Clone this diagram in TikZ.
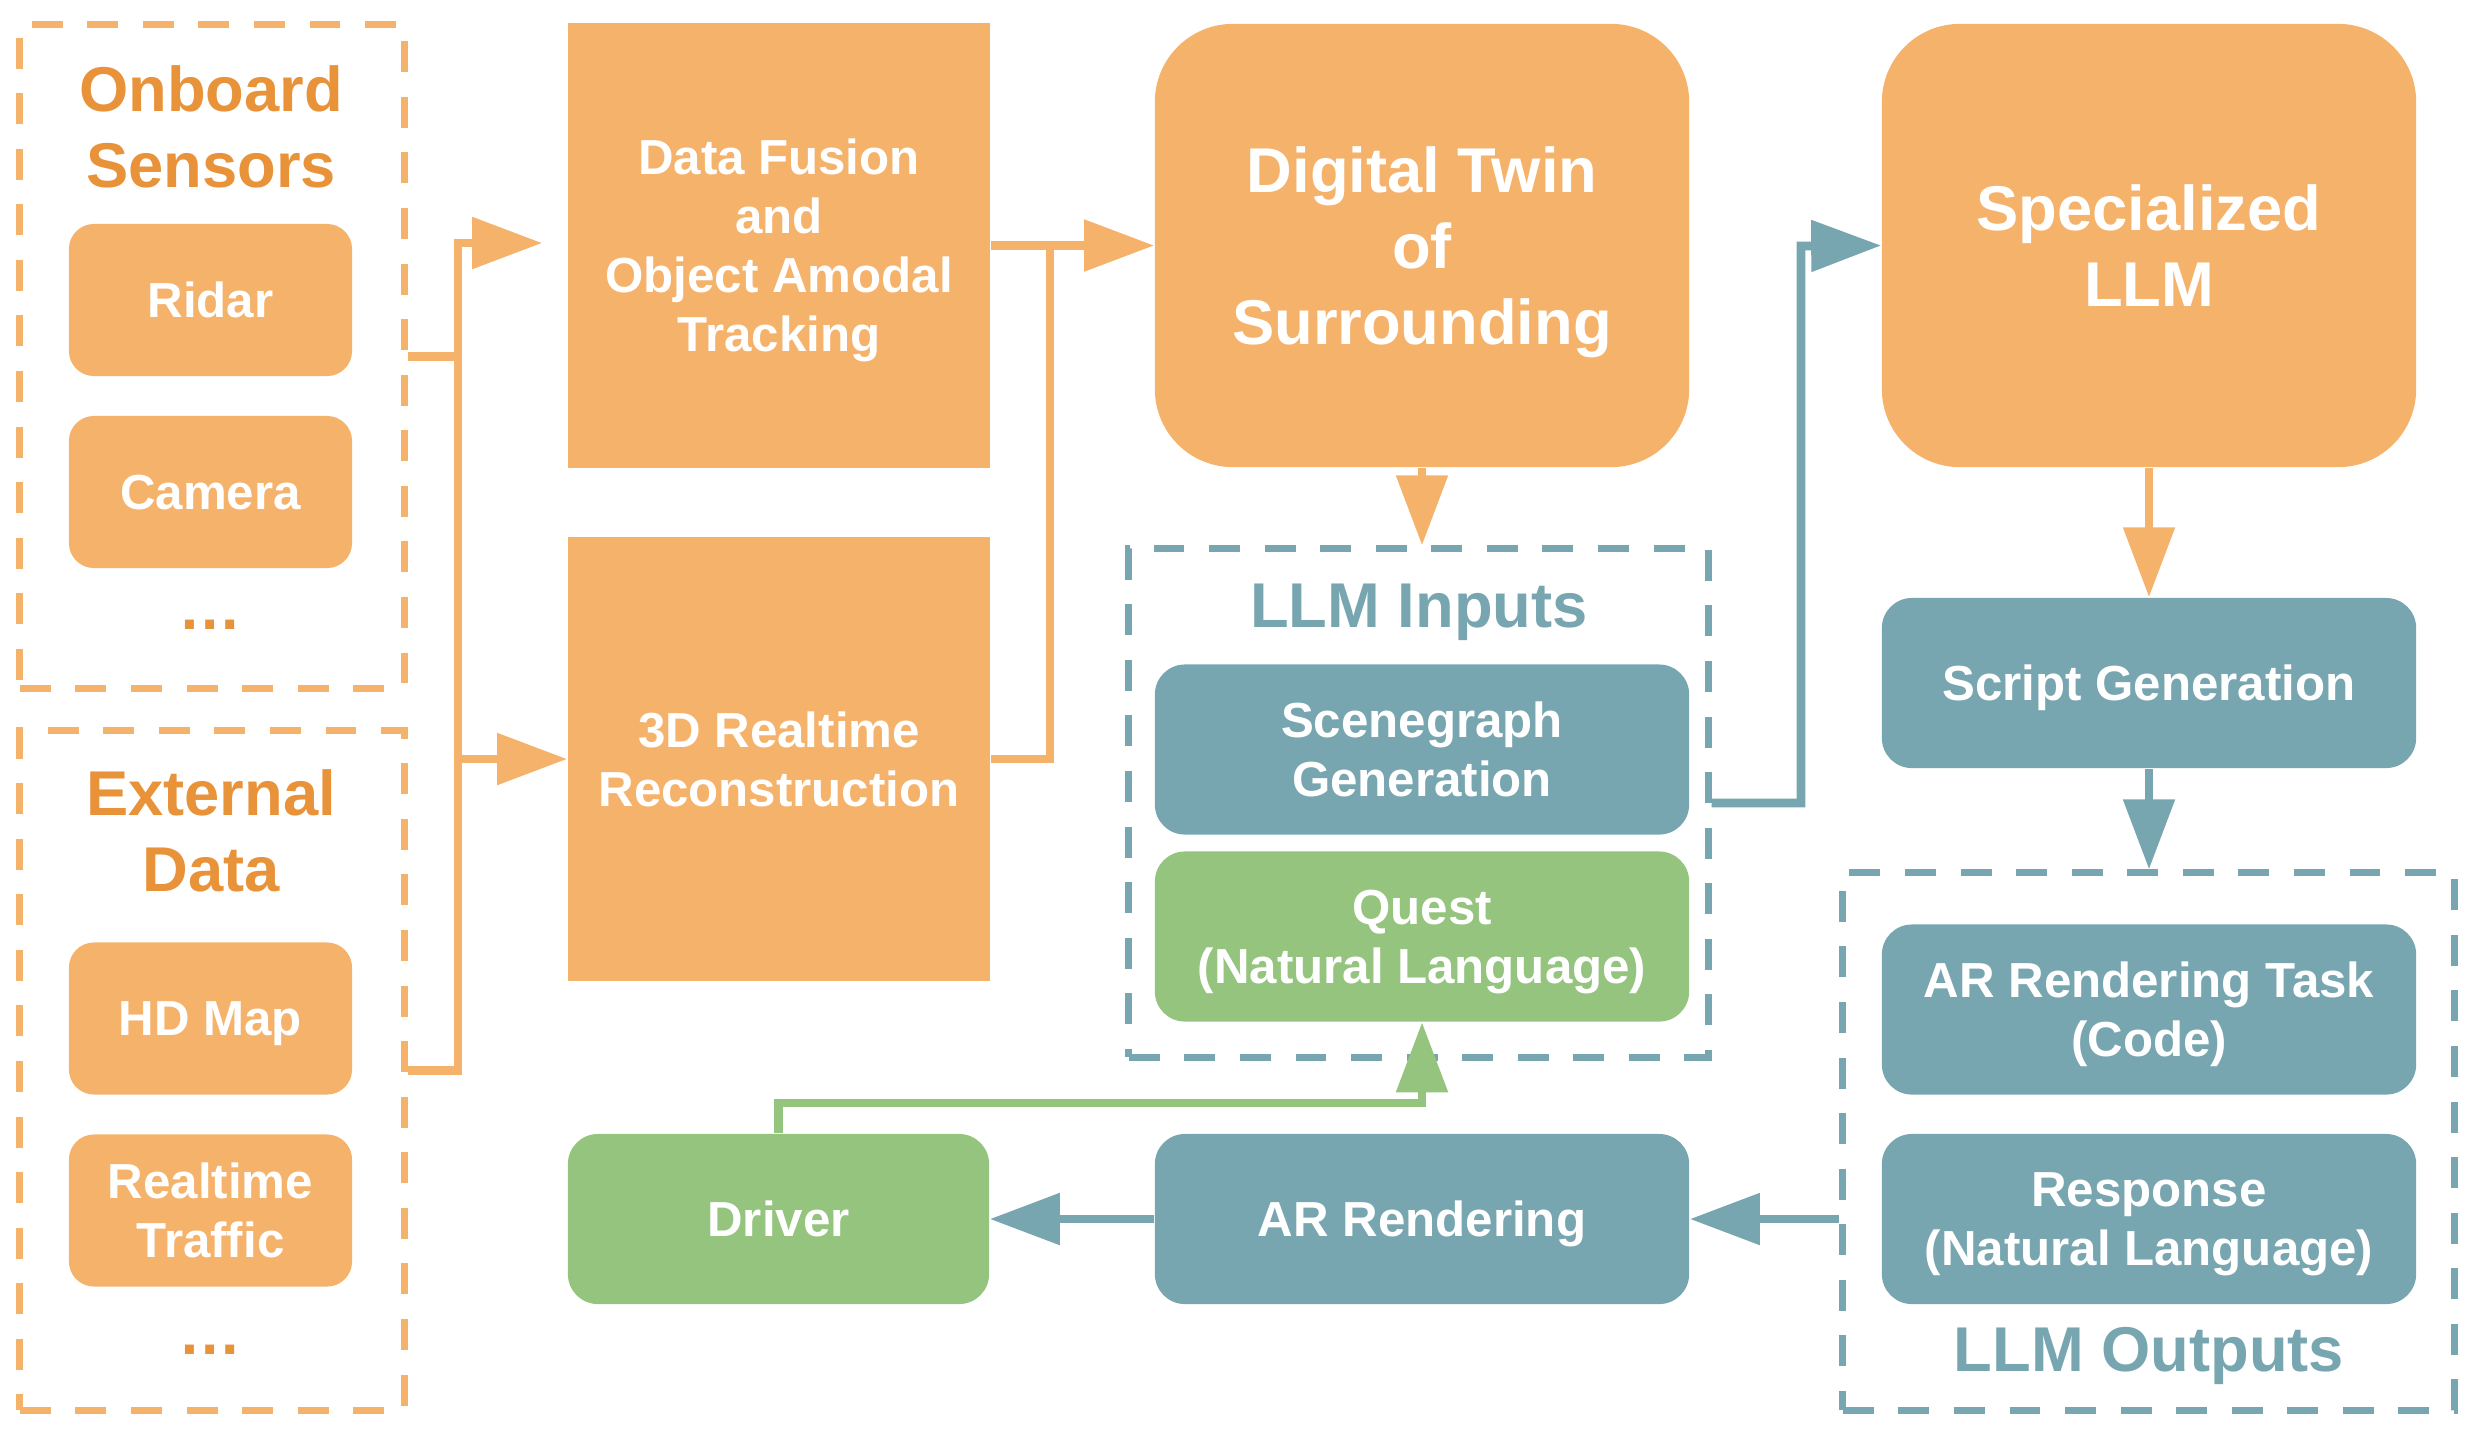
\documentclass[tikz,border=0pt]{standalone}
\usepackage{fontspec}
\setmainfont{Liberation Sans}
\usetikzlibrary{arrows.meta,calc}
\definecolor{orF}{HTML}{F5B26B}
\definecolor{orT}{HTML}{E8923A}
\definecolor{tl}{HTML}{78A6B0}
\definecolor{gr}{HTML}{94C47D}
\newcommand\fbig{\fontsize{18}{21.6}\selectfont\bfseries}
\newcommand\fsm{\fontsize{14}{16.8}\selectfont\bfseries}
\begin{document}
\begin{tikzpicture}[x=0.01cm,y=-0.01cm,
  sbox/.style={fill=orF, text=white, font=\fsm, align=center, rounded corners=2.5mm, minimum width=28.3mm, minimum height=15.2mm, inner sep=0pt, text depth=0pt},
  rbox/.style={fill=orF, text=white, font=\fsm, align=center, minimum width=42.2mm, minimum height=44.4mm, inner sep=0pt, text depth=0pt},
  bbox/.style={fill=orF, text=white, font=\fbig, align=center, rounded corners=7.8mm, minimum width=53.4mm, minimum height=44.3mm, inner sep=0pt, text depth=0pt},
  tbox/.style={fill=tl, text=white, font=\fsm, align=center, rounded corners=3mm, minimum width=53.4mm, minimum height=17mm, inner sep=0pt, text depth=0pt},
  gbox/.style={tbox, fill=gr},
  odash/.style={draw=orF, line width=2pt, dash pattern=on 8.8pt off 7pt, inner sep=0pt},
  tdash/.style={odash, draw=tl},
  otitle/.style={font=\fbig, text=orT, align=center},
  ttitle/.style={font=\fbig, text=tl, align=center},
  conn/.style={line width=2.5pt, color=orF},
  arr/.style={conn, -{Triangle[length=19.9pt,width=14.2pt]}},
  tconn/.style={conn, color=tl},
  tarr/.style={arr, color=tl},
  garr/.style={arr, color=gr}]
\useasboundingbox (0,0) rectangle (2482,1438);

% left groups
\node[odash, minimum width=38.4mm, minimum height=66.3mm] (ob) at (212,356.5) {};
\node[otitle] (obt) at (211,127) {Onboard\\Sensors};
\node[sbox] (ridar) at (210.5,300) {Ridar};
\node[sbox] (cam) at (210.5,492) {Camera};
\node[font=\fbig, text=orT, anchor=base] (dots1) at (210.5,629) {…};

\node[odash, minimum width=38.4mm, minimum height=67.9mm] (ext) at (212,1070.5) {};
\node[otitle] (extt) at (211,831) {External\\Data};
\node[sbox] (hd) at (210.5,1018.5) {HD Map};
\node[sbox] (rtt) at (210.5,1210.5) {Realtime\\Traffic};
\node[font=\fbig, text=orT, anchor=base] (dots2) at (210.5,1354) {…};

% processing
\node[rbox] (df) at (779,245.5) {Data Fusion\\and\\Object Amodal\\Tracking};
\node[rbox] (rt) at (779,759) {3D Realtime\\Reconstruction};
\node[bbox] (dt) at (1422,245.5) {Digital Twin\\of\\Surrounding};
\node[bbox] (llm) at (2149,245.5) {Specialized\\LLM};

% LLM inputs
\node[tdash, minimum width=57.9mm, minimum height=50.8mm] (inp) at (1418.5,803) {};
\node[ttitle, anchor=base] (inpt) at (1419,627) {LLM Inputs};
\node[tbox] (scg) at (1422,749.5) {Scenegraph\\Generation};
\node[gbox] (q) at (1422,936.5) {Quest\\(Natural Language)};

% right column
\node[tbox] (sg) at (2149,683) {Script Generation};
\node[tdash, minimum width=61.1mm, minimum height=53.7mm] (out) at (2148.5,1141.5) {};
\node[tbox] (art) at (2149,1009.5) {AR Rendering Task\\(Code)};
\node[tbox] (resp) at (2149,1219) {Response\\(Natural Language)};
\node[ttitle, anchor=base] (outt) at (2149,1371) {LLM Outputs};

% bottom
\node[tbox] (ar) at (1422,1219) {AR Rendering};
\node[gbox, minimum width=42.1mm] (drv) at (778.5,1219) {Driver};

% connectors
\coordinate (jt) at (458,243);
\coordinate (jm) at (1050,245.5);
\coordinate (jr) at (1801,246);
\coordinate (jg) at (1422,1103);
\draw[conn] (ext.east) -| (jt);
\draw[arr, shorten >=7.1pt] (ob.east) -| (jt) -- (jt -| df.west);
\draw[arr] (jt |- rt.west) -- (rt.west);
\draw[arr] (df.east) -- (dt.west);
\draw[conn] (rt.east) -| (jm);
\draw[arr] (dt.south) -- (dt.south |- inp.north);
\draw[tarr] (inp.east) -| (jr) -- (llm.west);
\draw[arr] (llm.south) -- (sg.north);
\draw[tarr] (sg.south) -- (sg.south |- out.north);
\draw[tarr] (out.west |- ar.east) -- (ar.east);
\draw[tarr] (ar.west) -- (drv.east);
\draw[garr] (drv.north) |- (jg) -- (q.south);
\end{tikzpicture}
\end{document}
